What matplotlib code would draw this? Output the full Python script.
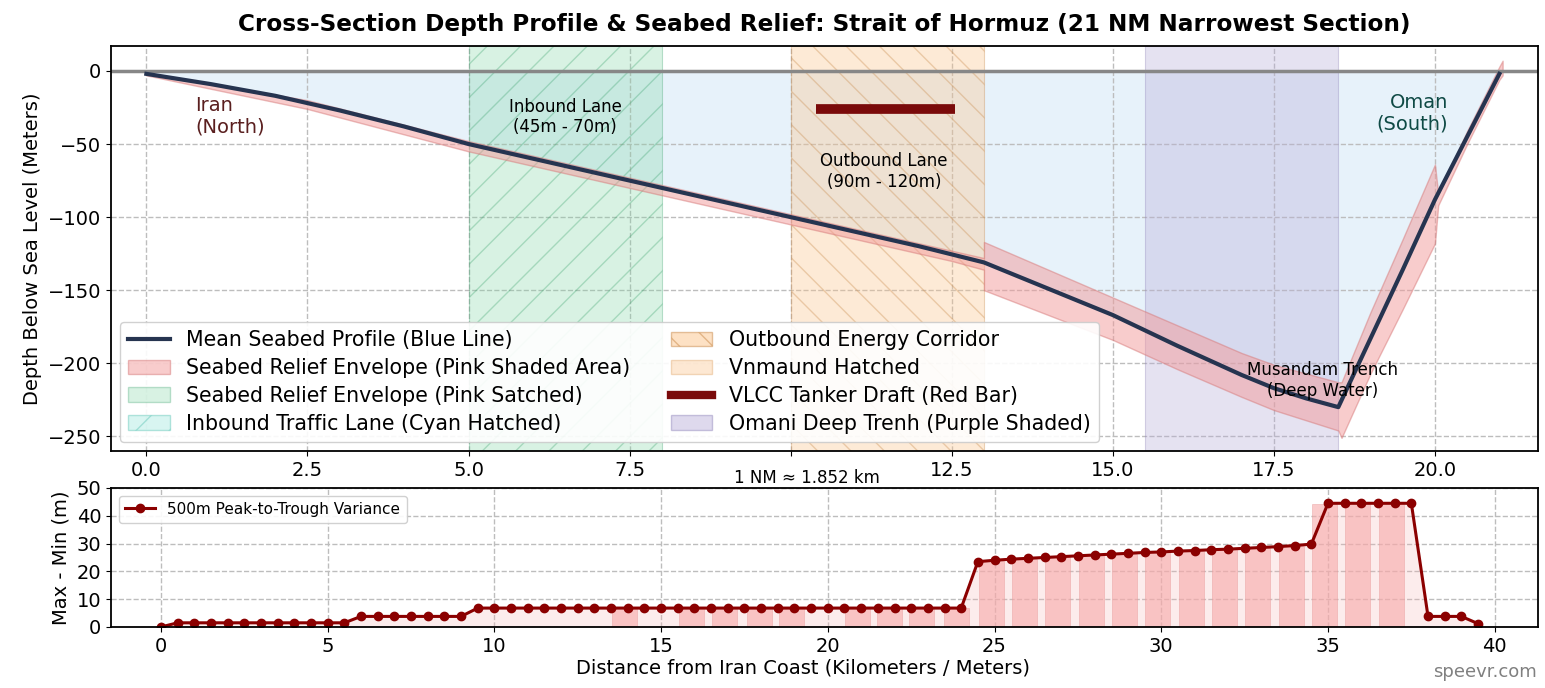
import numpy as np
import matplotlib.pyplot as plt
from matplotlib.patches import Patch
from matplotlib.lines import Line2D

# --- profile across the strait (NM from Iran coast) ---
dist_nm = [0, 1, 2, 2.5, 3, 4, 5, 6, 7, 8, 9, 10, 11, 12, 13,
           14, 15, 16, 17, 17.5, 18, 18.5, 19, 19.5, 20, 20.5, 21]
mean_depth = [-2, -9, -17, -22, -27, -38, -50, -60, -70, -80, -90, -100, -110, -120, -131,
              -149, -167, -188, -208, -217, -224, -230, -183, -136, -88, -45, -2]

# relief envelope (upper / lower bounds), with steps at 13 NM and 20 NM
env_nm = [0, 2.5, 5, 7.5, 10, 12.5, 13, 13, 14, 15, 16, 17, 17.5, 18, 18.5, 18.55,
          19, 19.5, 20, 20.05, 20.5, 21, 21.05]
env_hi = [-1, -20, -48, -73, -98, -123, -128, -117, -136, -155, -174, -193, -201, -207, -213, -213,
          -165, -115, -64, -84, -41, 3, 7]
env_lo = [-3, -26, -55, -80, -105, -130, -136, -150, -167, -184, -204, -223, -232, -239, -246, -251,
          -207, -163, -118, -92, -50, -6, -3]

# lanes / zones (NM)
inbound = (5.0, 8.0)
outbound = (10.0, 13.0)
trench = (15.5, 18.5)
vlcc_x = (10.4, 12.55)
vlcc_depth = -26

# --- 500 m peak-to-trough variance (km) ---
km_pts = np.arange(0, 40, 0.5)
variance = [0,
            1.5, 1.5, 1.5, 1.5, 1.5, 1.5, 1.5, 1.5, 1.5, 1.5, 1.5,
            3.8, 3.8, 3.8, 3.8, 3.8, 3.8, 3.8,
            6.8, 6.8, 6.8, 6.8, 6.8, 6.8, 6.8, 6.8, 6.8, 6.8,
            6.8, 6.8, 6.8, 6.8, 6.8, 6.8, 6.8, 6.8, 6.8, 6.8,
            6.8, 6.8, 6.8, 6.8, 6.8, 6.8, 6.8, 6.8, 6.8, 6.8,
            23.5, 24.0, 24.4, 24.7, 25.0, 25.3, 25.6, 25.9, 26.2, 26.5, 26.8,
            27.0, 27.3, 27.5, 27.8, 28.0, 28.3, 28.6, 28.9, 29.3, 29.8,
            44.5, 44.5, 44.5, 44.5, 44.5, 44.5,
            3.8, 3.8, 3.8,
            1.2]
bar_km = [13.9, 15.9, 16.9, 17.95, 18.9, 20.9, 21.85, 22.8, 23.85,
          24.9, 25.9, 26.9, 27.9, 28.9, 29.9, 30.9, 31.9, 32.9, 33.9, 34.9, 35.9, 36.9]
bar_h = [6.8, 6.8, 6.8, 6.8, 6.8, 6.8, 6.8, 6.8, 6.8,
         23.8, 24.6, 25.2, 25.8, 26.4, 26.9, 27.4, 27.9, 28.4, 29.0, 44.3, 44.3, 44.3]
x_ticks = [0, 2.5, 5, 7.5, 10, 12.5, 15, 17.5, 20]
x_ticklabels = ['0.0', '2.5', '5.0', '7.5', '', '12.5', '15.0', '17.5', '20.0']

c_line = '#263450'
c_pink = '#f29a9a'
c_green = '#7fd6a4'
c_orange = '#fcc48a'
c_purple = '#b7acd8'

fig = plt.figure(figsize=(15.45, 6.88), dpi=100)
ax = fig.add_axes([0.0718, 0.3445, 0.9237, 0.5885])
ax2 = fig.add_axes([0.0718, 0.0887, 0.9237, 0.202])

# water
ax.fill_between(dist_nm, mean_depth, 0, color='#d4e8f6', alpha=0.55, lw=0, zorder=0.5)
ax.axhline(0, color='#878787', lw=2.5, zorder=2.5)

# zones
ax.axvspan(*inbound, facecolor=c_green, alpha=0.3, hatch='/', edgecolor='#2f9c63', lw=0.8, zorder=1)
ax.axvspan(*outbound, facecolor=c_orange, alpha=0.35, hatch='\\', edgecolor='#c98a4a', lw=0.8, zorder=1)
ax.axvspan(*trench, facecolor=c_purple, alpha=0.35, edgecolor='#8e83b8', lw=0.8, zorder=1)

# envelope + mean
ax.fill_between(env_nm, env_lo, env_hi, facecolor=c_pink, alpha=0.5, edgecolor='#d77a7a', lw=1, zorder=2)
ax.plot(dist_nm, mean_depth, color=c_line, lw=3, zorder=3)
ax.plot(vlcc_x, [vlcc_depth, vlcc_depth], color='#7a0a0a', lw=7, solid_capstyle='butt', zorder=3)

ax.text(0.76, -31, 'Iran\n(North)', color='#5a1f1f', fontsize=14, ha='left', va='center')
ax.text(20.2, -29, 'Oman\n(South)', color='#0f4a45', fontsize=14, ha='right', va='center',
        multialignment='right')
ax.text(6.5, -31.5, 'Inbound Lane\n(45m - 70m)', fontsize=12, ha='center', va='center')
ax.text(11.45, -69, 'Outbound Lane\n(90m - 120m)', fontsize=12, ha='center', va='center')
ax.text(18.25, -212, 'Musandam Trench\n(Deep Water)', fontsize=12, ha='center', va='center', zorder=4)

ax.set_xlim(-0.55, 21.6)
ax.set_ylim(-260, 17)
ax.set_xticks(x_ticks)
ax.set_xticklabels(x_ticklabels)
ax.set_yticks([0, -50, -100, -150, -200, -250])
ax.tick_params(labelsize=14)
ax.grid(True, ls='--', color='#bdbdbd', lw=1)
ax.set_axisbelow(True)
ax.set_ylabel('Depth Below Sea Level (Meters)', fontsize=14)
ax.set_title('Cross-Section Depth Profile & Seabed Relief: Strait of Hormuz (21 NM Narrowest Section)',
             fontsize=16.7, fontweight='bold', pad=11)
for s in ax.spines.values():
    s.set_linewidth(1.3)

handles = [
    Line2D([0], [0], color=c_line, lw=3),
    Patch(facecolor=c_pink, alpha=0.5, edgecolor='#d77a7a'),
    Patch(facecolor=c_green, alpha=0.3, edgecolor='#2f9c63'),
    Patch(facecolor='#9fe8de', alpha=0.4, hatch='/', edgecolor='#4fbfae'),
    Patch(facecolor=c_orange, alpha=0.5, hatch='\\', edgecolor='#c98a4a'),
    Patch(facecolor='#fcd6b0', alpha=0.55, edgecolor='#e8b98a'),
    Line2D([0], [0], color='#7a0a0a', lw=6),
    Patch(facecolor=c_purple, alpha=0.45, edgecolor='#8e83b8'),
]
labels = [
    'Mean Seabed Profile (Blue Line)',
    'Seabed Relief Envelope (Pink Shaded Area)',
    'Seabed Relief Envelope (Pink Satched)',
    'Inbound Traffic Lane (Cyan Hatched)',
    'Outbound Energy Corridor',
    'Vnmaund Hatched',
    'VLCC Tanker Draft (Red Bar)',
    'Omani Deep Trenh (Purple Shaded)',
]
leg = ax.legend(handles, labels, loc='lower left', ncol=2, fontsize=14.8, framealpha=0.9,
                handlelength=2.0, columnspacing=2.0, labelspacing=0.38, borderaxespad=0.45)
leg.set_zorder(5)

fig.text(0.522, 0.305, '1 NM \u2248 1.852 km', fontsize=12, ha='center', va='center')

# --- bottom: variance ---
ax2.fill_between(km_pts, variance, 0, color='#f7b5b5', alpha=0.25, lw=0)
ax2.bar(bar_km, bar_h, width=0.75, color='#f7a9a9', alpha=0.6, edgecolor='#e79a9a', lw=0.5)
ax2.plot(km_pts, variance, color='#8b0000', lw=2.2, marker='o', ms=6,
         label='500m Peak-to-Trough Variance')
ax2.set_xlim(-1.5, 41.3)
ax2.set_ylim(0, 50)
ax2.set_xticks([0, 5, 10, 15, 20, 25, 30, 35, 40])
ax2.set_yticks([0, 10, 20, 30, 40, 50])
ax2.tick_params(labelsize=14)
ax2.grid(True, ls='--', color='#bdbdbd', lw=1)
ax2.set_axisbelow(True)
ax2.set_ylabel('Max - Min (m)', fontsize=14)
ax2.set_xlabel('Distance from Iran Coast (Kilometers / Meters)', fontsize=14, labelpad=2)
ax2.xaxis.label.set_x(0.485)
ax2.legend(loc='upper left', fontsize=11, framealpha=0.9)
for s in ax2.spines.values():
    s.set_linewidth(1.3)

fig.text(0.995, 0.01, 'speevr.com', fontsize=13, color='#808080', ha='right', va='bottom')

fig.savefig('out.png', dpi=100)
